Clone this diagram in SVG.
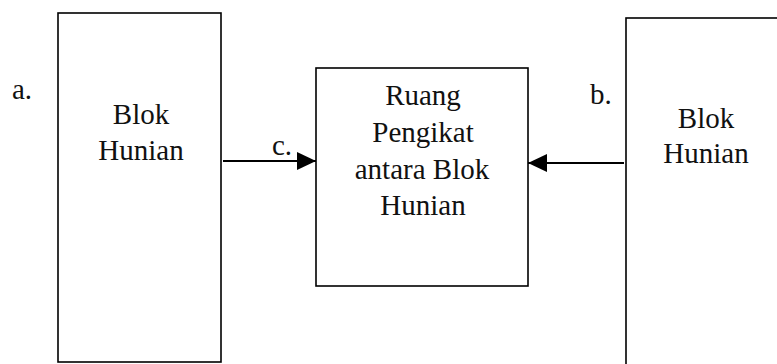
<svg xmlns="http://www.w3.org/2000/svg" width="777" height="364" viewBox="0 0 777 364">
<style>
.box{fill:#fff;stroke:#000;stroke-width:1.6}
.t{font-family:'Liberation Serif','Times New Roman',serif;font-size:29px;fill:#111}
.m{text-anchor:middle}
.conn{stroke:#000;stroke-width:2;fill:none}
</style>
<defs>
<marker id="ah" markerUnits="userSpaceOnUse" markerWidth="20" markerHeight="18" refX="19" refY="9" orient="auto">
<path d="M0,0 L19,9 L0,18 z" fill="#000"/>
</marker>
</defs>
<rect width="777" height="364" fill="#fff"/>
<g id="blok-a">
<rect class="box" x="58" y="13" width="163" height="349"/>
<text class="t" x="12" y="99">a.</text>
<text class="t m" x="141" y="124">Blok</text>
<text class="t m" x="141" y="160">Hunian</text>
</g>
<g id="ruang-pengikat">
<rect class="box" x="316" y="68" width="212" height="218" fill="#fcfcfc"/>
<text class="t m" x="423" y="105">Ruang</text>
<text class="t m" x="423" y="142">Pengikat</text>
<text class="t m" x="422" y="179">antara Blok</text>
<text class="t m" x="423" y="215">Hunian</text>
</g>
<g id="blok-b">
<rect class="box" x="626" y="18" width="200" height="400"/>
<text class="t" x="590" y="104">b.</text>
<text class="t m" x="706" y="128">Blok</text>
<text class="t m" x="706" y="163">Hunian</text>
</g>
<g id="connectors">
<line class="conn" x1="223" y1="161" x2="316" y2="161" marker-end="url(#ah)"/>
<line class="conn" x1="624" y1="163" x2="528" y2="163" marker-end="url(#ah)"/>
<text class="t" x="272" y="155">c.</text>
</g>
</svg>
